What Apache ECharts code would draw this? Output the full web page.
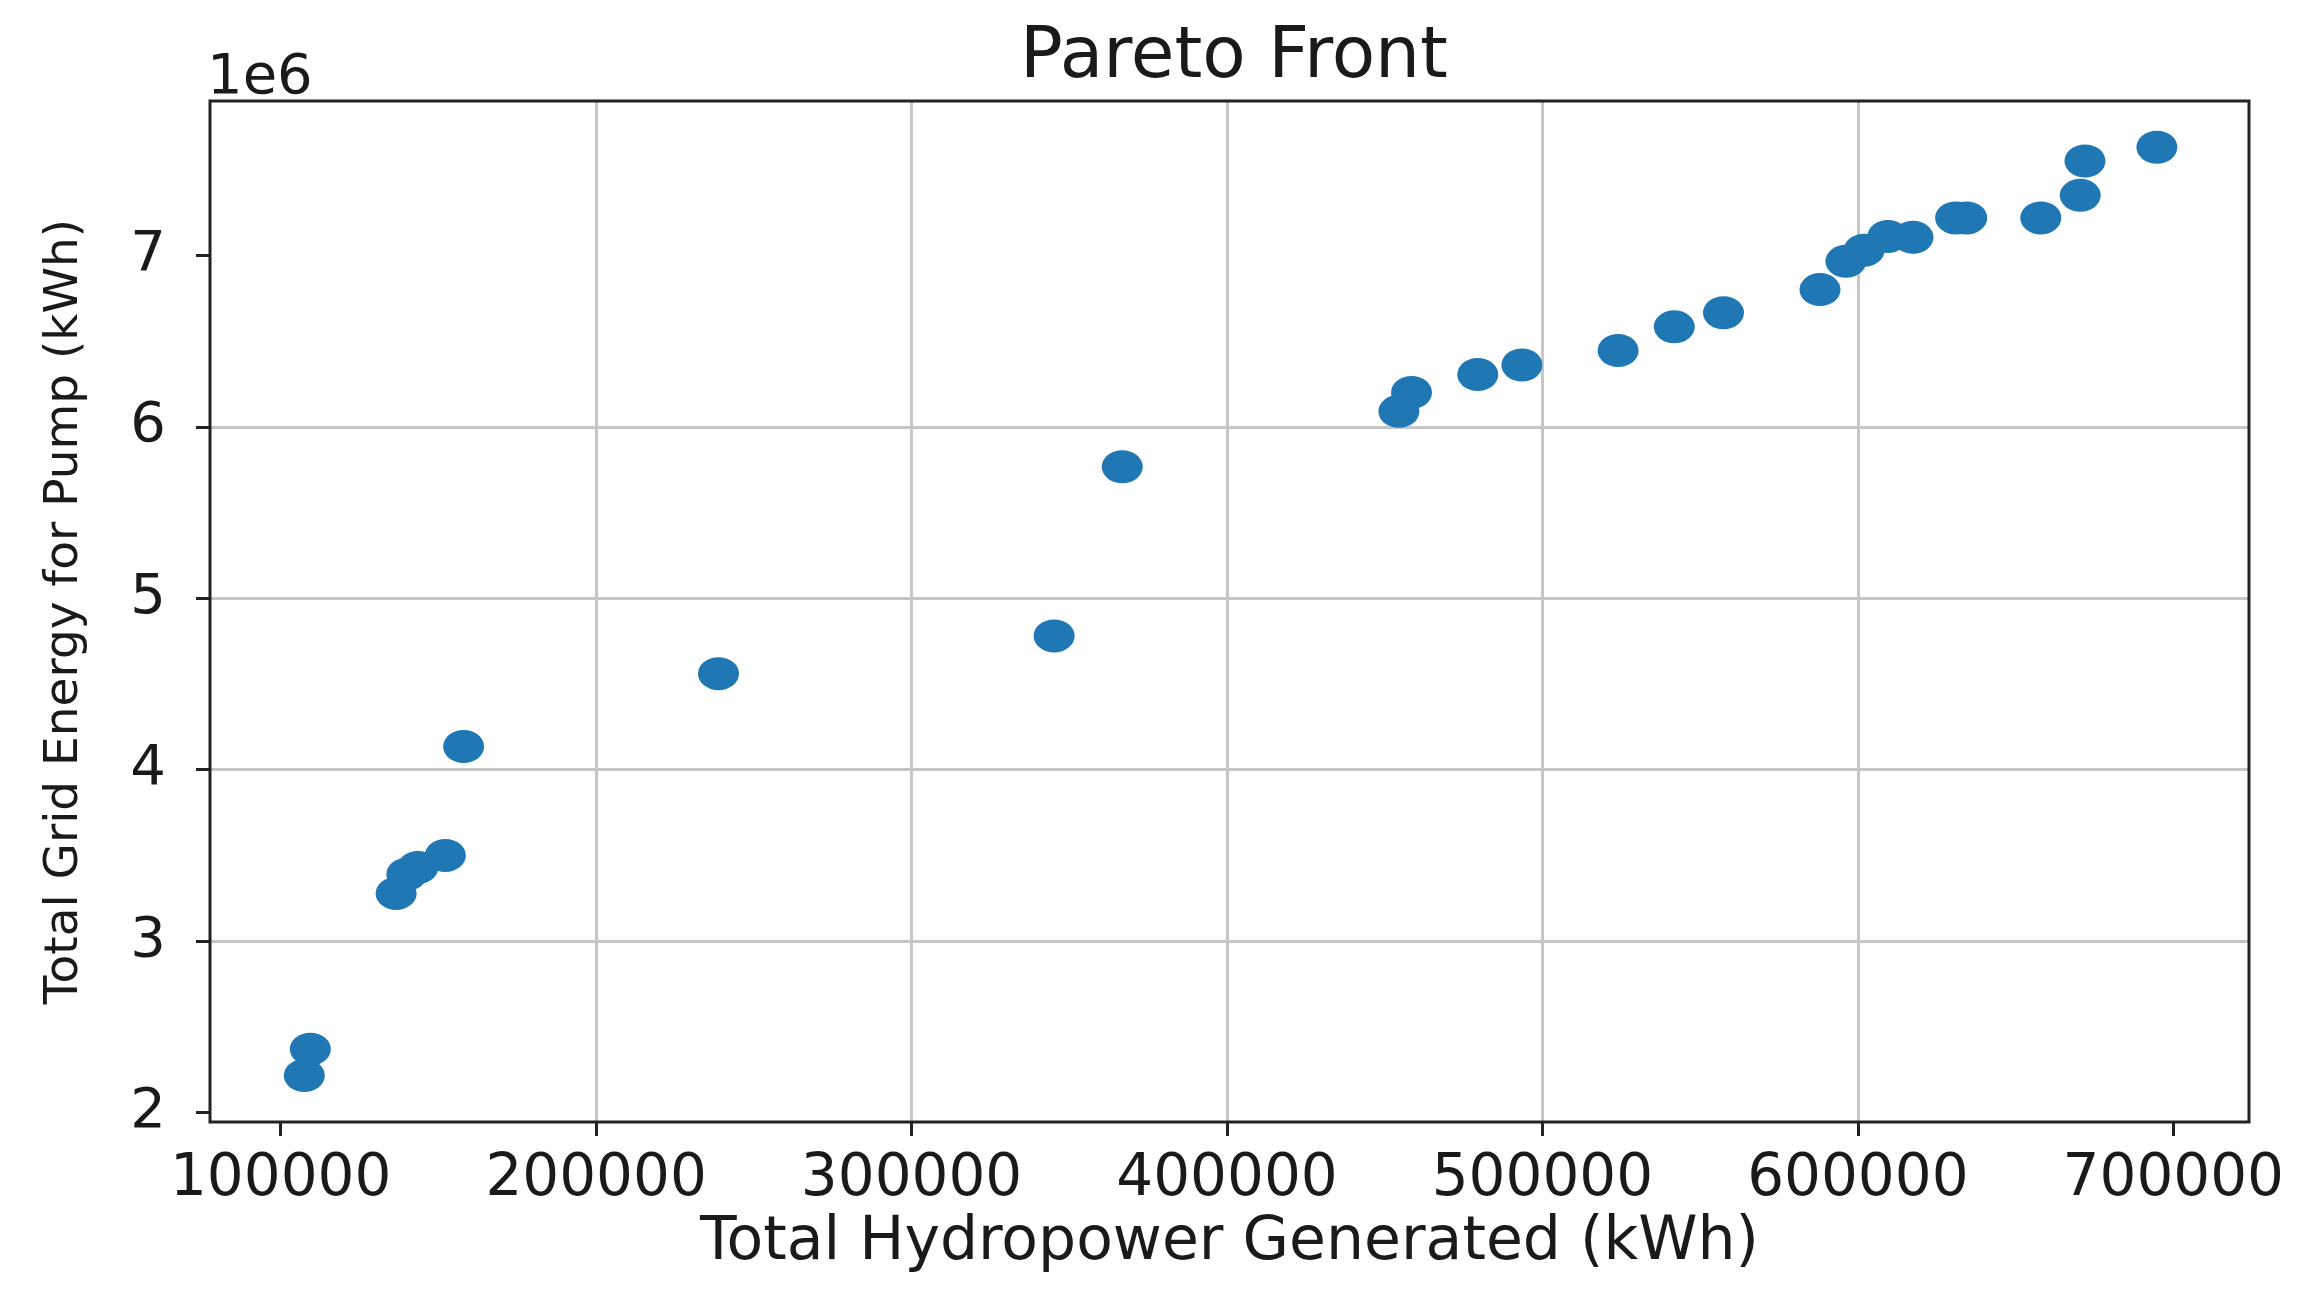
<!DOCTYPE html>
<html>
<head>
<meta charset="utf-8">
<title>Pareto Front</title>
<script src="https://cdn.jsdelivr.net/npm/echarts@6/dist/echarts.min.js"></script>
<style>
html, body { margin: 0; padding: 0; background: #fff; }
#main { width: 2321px; height: 1305px; }
</style>
</head>
<body>
<div id="main"></div>
<script>
// Pareto front points: hydropower generated (kWh) vs grid energy for pump (kWh)
var hydro = [107500, 109400, 136600, 140000, 143500, 152200, 158000, 238800, 345200, 366800,
             454500, 458500, 479500, 493500, 524000, 541800, 557400, 588000, 596200, 602000,
             609500, 617500, 631000, 634500, 658000, 670500, 672000, 694800];
var gridEnergy = [2216000, 2370000, 3278000, 3390000, 3430000, 3500000, 4135000, 4560000, 4780000, 5767000,
                  6090000, 6200000, 6305000, 6360000, 6445000, 6583000, 6665000, 6800000, 6965000, 7030000,
                  7110000, 7105000, 7218000, 7218000, 7218000, 7350000, 7550000, 7630000];
var xTicks = [100000, 200000, 300000, 400000, 500000, 600000, 700000];
var yTicks = [2000000, 3000000, 4000000, 5000000, 6000000, 7000000];

var points = hydro.map(function (x, i) { return [x, gridEnergy[i]]; });

var myChart = echarts.init(document.getElementById('main'));
var font = 'DejaVu Sans';
var ink = '#1a1a1a';

option = {
    animation: false,
    backgroundColor: '#fff',
    title: [
        {
            text: 'Pareto Front',
            left: 1229,
            top: 18,
            textAlign: 'center',
            textStyle: { fontFamily: font, fontSize: 71, fontWeight: 'normal', color: ink }
        },
        {
            text: '1e6',
            left: 202,
            top: 45,
            textStyle: { fontFamily: font, fontSize: 56, fontWeight: 'normal', color: ink }
        }
    ],
    grid: {
        show: true,
        left: 210,
        right: 72,
        top: 101,
        bottom: 183,
        borderColor: '#222',
        borderWidth: 3,
        z: 5
    },
    xAxis: {
        type: 'value',
        min: 77600,
        max: 724000,
        name: 'Total Hydropower Generated (kWh)',
        nameLocation: 'middle',
        nameGap: 91,
        nameTextStyle: { fontFamily: font, fontSize: 60, color: ink },
        axisLine: { show: false },
        axisTick: { show: true, length: 14, customValues: xTicks, lineStyle: { color: '#222', width: 3 } },
        axisLabel: {
            customValues: xTicks,
            margin: 29,
            fontFamily: font,
            fontSize: 58,
            color: ink,
            formatter: function (v) { return String(v); }
        },
        splitLine: { show: true, showMinLine: false, showMaxLine: false, lineStyle: { color: '#c6c6c6', width: 3 } }
    },
    yAxis: {
        type: 'value',
        min: 1945000,
        max: 7900000,
        name: 'Total Grid Energy for Pump (kWh)',
        nameLocation: 'middle',
        nameGap: 122,
        nameTextStyle: { fontFamily: font, fontSize: 47, color: ink },
        axisLine: { show: false },
        axisTick: { show: true, length: 14, customValues: yTicks, lineStyle: { color: '#222', width: 3 } },
        axisLabel: {
            customValues: yTicks,
            margin: 44,
            fontFamily: font,
            fontSize: 56,
            color: ink,
            formatter: function (v) { return String(Math.round(v / 1e6)); }
        },
        splitLine: { show: true, showMinLine: false, showMaxLine: false, lineStyle: { color: '#c6c6c6', width: 3 } }
    },
    series: [
        {
            type: 'scatter',
            data: points,
            // slightly wide dots, like the stretched original
            symbol: 'path://M0,10 A10,10 0 1,0 20,10 A10,10 0 1,0 0,10 Z',
            symbolSize: [41, 33],
            itemStyle: { color: '#1f77b4', opacity: 1 }
        }
    ]
};
myChart.setOption(option);
</script>
</body>
</html>
